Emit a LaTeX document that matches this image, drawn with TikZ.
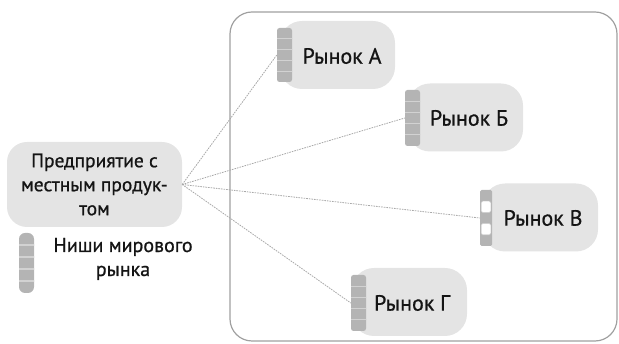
\documentclass[tikz,border=0pt]{standalone}
\usepackage{fontspec}
\setmainfont{PT Sans}[BoldFont=PT Sans, BoldFeatures={FakeBold=0.8}]
\usetikzlibrary{calc}
\definecolor{nodegray}{HTML}{E4E4E4}
\definecolor{bargray}{HTML}{B4B4B4}
\definecolor{barline}{HTML}{D2D2D2}
\definecolor{framegray}{HTML}{A0A0A0}
\definecolor{linkgray}{HTML}{A8A8A8}
\definecolor{inkgray}{HTML}{141414}
\begin{document}
\begin{tikzpicture}[x=1pt,y=-1pt,
  worldbox/.style={draw=framegray, line width=1.2pt, rounded corners=22pt,
    minimum width=387pt, minimum height=329pt, inner sep=0pt},
  entbox/.style={fill=nodegray, rounded corners=20pt, minimum width=175pt,
    minimum height=85pt, align=center, text=inkgray, inner sep=0pt,
    font=\fontsize{19.5}{24}\selectfont\bfseries},
  mkt/.style={fill=nodegray, rounded corners=22pt, minimum width=115pt,
    minimum height=68pt, inner sep=0pt},
  mtext/.style={text=inkgray, inner sep=0pt, font=\fontsize{22}{24}\selectfont\bfseries},
  legendtext/.style={text=inkgray, align=center, inner sep=0pt,
    font=\fontsize{20}{24}\selectfont\bfseries},
  % striped niche bar: grey with light separators
  niche/.style={fill=bargray, minimum width=15pt, minimum height=#1,
    inner sep=0pt, rounded corners=2.5pt,
    path picture={
      \foreach \k in {1,...,4}{
        \draw[barline, line width=1.1pt]
          ($(path picture bounding box.north west)!\k/5!(path picture bounding box.south west)$)
          -- ++(20pt,0);
      }}},
  % niche bar with open (white) cells
  nicheopen/.style={fill=bargray, minimum width=12pt, minimum height=#1,
    inner sep=0pt, rounded corners=1.5pt,
    path picture={
      \foreach \k in {1,3}{
        \fill[white, draw=barline, line width=0.6pt]
          ($(path picture bounding box.north west)!\k/5!(path picture bounding box.south west)+(1.2pt,0)$)
          rectangle
          ($(path picture bounding box.north east)!\k/5+1/5!(path picture bounding box.south east)+(-1.2pt,0)$);
      }}},
  link/.style={draw=linkgray, line width=0.8pt, dash pattern=on 1.6pt off 1pt}
]
\useasboundingbox (0,0) rectangle (619,344);

% world market frame
\node[worldbox] (world) at (423.5,176.5) {};

% enterprise
\node[entbox] (ent) at (94.5,184.5) {Предприятие с\\местным продук-\\том};

% markets
\node[mkt] (mA) at (337.5,55) {};
\node[mkt] (mB) at (465.5,117.5) {};
\node[mkt] (mV) at (540.5,217.5) {};
\node[mkt] (mG) at (409.5,302) {};

\node[niche=54pt] (mA-bar) at (284.5,55) {};
\node[niche=56pt] (mB-bar) at (412.5,118) {};
\node[nicheopen=56pt] (mV-bar) at (486,218) {};
\node[niche=56pt] (mG-bar) at (358.5,303) {};

\node[mtext] (mA-text) at (342,56) {Рынок А};
\node[mtext] (mB-text) at (469,118) {Рынок Б};
\node[mtext] (mV-text) at (543,218) {Рынок В};
\node[mtext] (mG-text) at (412,303) {Рынок Г};

% links from the enterprise to each niche
\draw[link] (ent.east) -- (mA-bar.west);
\draw[link] (ent.east) -- (mB-bar.west);
\draw[link] (ent.east) -- (mV-bar.west);
\draw[link] (ent.east) -- (mG-bar.west);

% legend
\node[niche=60pt, rounded corners=6pt] (key-bar) at (26.5,263) {};
\node[legendtext] (key-text) at (123,259) {Ниши мирового\\рынка};
\end{tikzpicture}
\end{document}
